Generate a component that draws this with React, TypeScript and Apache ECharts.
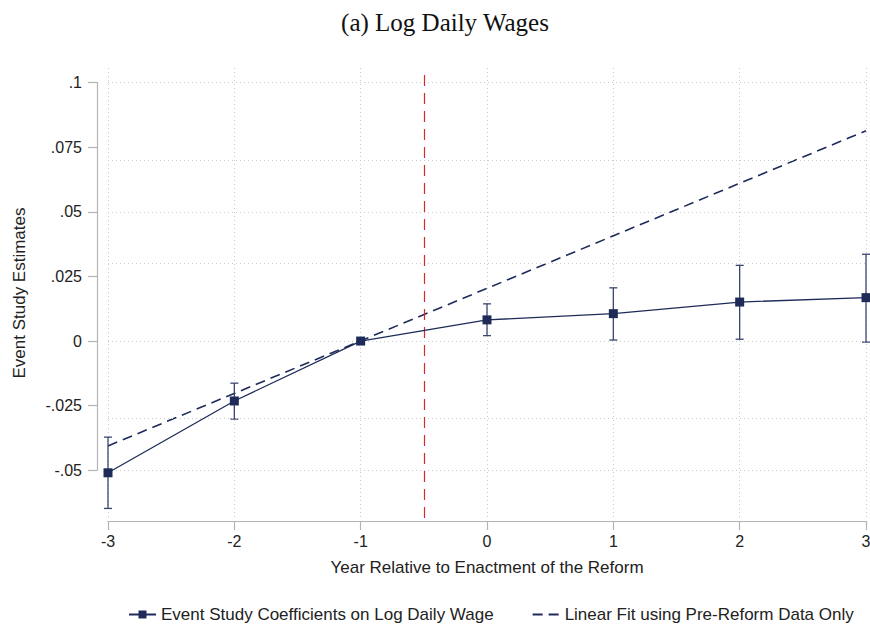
import React, { useEffect, useRef } from "react";
import * as echarts from "echarts";

const years = [-3, -2, -1, 0, 1, 2, 3];
const coef = [-0.051, -0.0232, 0, 0.0082, 0.0106, 0.0151, 0.0168];
const ciLow = [-0.0648, -0.0302, 0, 0.0021, 0.0004, 0.0007, -0.0004];
const ciHigh = [-0.0372, -0.0163, 0, 0.0144, 0.0206, 0.0293, 0.0336];
const fitX = [-3, 3];
const fitY = [-0.0406, 0.0814];
const yTickValues = [-0.05, -0.025, 0, 0.025, 0.05, 0.075, 0.1];
const yTickLabels = ["-.05", "-.025", "0", ".025", ".05", ".075", ".1"];
const xTickLabels = ["-3", "-2", "-1", "0", "1", "2", "3"];
const reformLine = -0.5;

const NAVY = "#1e2b58";
const AXIS = "#b4b4b4";
const GRID = "#c9c9c9";
const FONT = "'Liberation Sans', Arial, sans-serif";
const COEF_NAME = "Event Study Coefficients on Log Daily Wage";
const FIT_NAME = "Linear Fit using Pre-Reform Data Only";

export default function App() {
  const ref = useRef<HTMLDivElement>(null);
  useEffect(() => {
    if (!ref.current) return;
    const chart = echarts.init(ref.current, undefined, { renderer: "svg" });
    const yMin = -0.0685;
    const yMax = 0.1057;
    const option: any = {
      animation: false,
      backgroundColor: "#ffffff",
      title: {
        text: "(a) Log Daily Wages",
        left: 440,
        textAlign: "center",
        top: 5,
        textStyle: {
          fontFamily: "'Liberation Serif', 'DejaVu Serif', serif",
          fontWeight: "normal",
          fontSize: 25,
          color: "#111",
        },
      },
      legend: {
        top: 601,
        left: 123,
        itemWidth: 27,
        itemHeight: 10,
        itemGap: 38,
        textStyle: { fontFamily: FONT, fontSize: 17, color: "#222" },
        data: [
          { name: COEF_NAME },
          { name: FIT_NAME, itemStyle: { opacity: 0 } },
        ],
      },
      grid: [
        { left: 108, right: 4, top: 68, bottom: 113, outerBoundsMode: "none", containLabel: false },
        { left: 97, width: 10, top: 82.6, height: 387.6, outerBoundsMode: "none", containLabel: false },
      ],
      xAxis: [
        {
          type: "value",
          gridIndex: 0,
          min: -3,
          max: 3,
          interval: 1,
          offset: 3,
          name: "Year Relative to Enactment of the Reform",
          nameLocation: "middle",
          nameGap: 37.5,
          nameTextStyle: { fontFamily: FONT, fontSize: 17, color: "#222" },
          axisLine: { show: true, onZero: false, lineStyle: { color: AXIS, width: 1.2 } },
          axisTick: { show: true, inside: false, length: 9, lineStyle: { color: AXIS, width: 1.2 } },
          axisLabel: {
            fontFamily: FONT,
            fontSize: 16,
            color: "#222",
            margin: 12,
            formatter: (v: number) => xTickLabels[years.indexOf(Math.round(v))] ?? "",
          },
          splitLine: { show: true, lineStyle: { color: GRID, type: [1, 3], width: 1 } },
        },
        { type: "value", gridIndex: 1, show: false, min: 0, max: 1 },
      ],
      yAxis: [
        {
          type: "value",
          gridIndex: 0,
          min: yMin,
          max: yMax,
          name: "Event Study Estimates",
          nameLocation: "middle",
          nameGap: 80,
          nameTextStyle: { fontFamily: FONT, fontSize: 17, color: "#222" },
          axisLine: { show: false },
          axisTick: { show: false },
          axisLabel: { show: false },
          splitLine: { show: false },
        },
        {
          type: "value",
          gridIndex: 1,
          min: -0.05,
          max: 0.1,
          interval: 0.025,
          axisLine: { show: true, onZero: false, lineStyle: { color: AXIS, width: 1.2 } },
          axisTick: { show: true, length: 9, lineStyle: { color: AXIS, width: 1.2 } },
          axisLabel: {
            fontFamily: FONT,
            fontSize: 16,
            color: "#222",
            margin: 15,
            formatter: (v: number) => {
              const i = yTickValues.findIndex((t) => Math.abs(t - v) < 1e-6);
              return i >= 0 ? yTickLabels[i] : "";
            },
          },
          splitLine: { show: false },
        },
      ],
      series: [
        {
          name: "gridlines",
          type: "line",
          xAxisIndex: 0,
          yAxisIndex: 0,
          data: [],
          silent: true,
          markLine: {
            silent: true,
            symbol: "none",
            label: { show: false },
            lineStyle: { color: GRID, type: [1, 3], width: 1 },
            data: yTickValues.map((v) => ({ yAxis: v })),
          },
        },
        {
          name: "reform",
          type: "line",
          xAxisIndex: 0,
          yAxisIndex: 0,
          data: [],
          silent: true,
          markLine: {
            silent: true,
            symbol: "none",
            label: { show: false },
            lineStyle: { color: "#d42a2a", type: [11, 7], width: 1.2 },
            data: [{ xAxis: reformLine }],
          },
        },
        {
          name: FIT_NAME,
          type: "line",
          xAxisIndex: 0,
          yAxisIndex: 0,
          data: fitX.map((x, i) => [x, fitY[i]]),
          showSymbol: false,
          symbol: "none",
          itemStyle: { color: NAVY },
          lineStyle: { color: NAVY, width: 1.6, type: [10, 6] },
          z: 3,
        },
        {
          name: "errorbars",
          type: "custom",
          xAxisIndex: 0,
          yAxisIndex: 0,
          data: years.map((x, i) => [x, ciLow[i], ciHigh[i]]),
          encode: { x: 0, y: [1, 2] },
          silent: true,
          z: 4,
          renderItem: (params: any, api: any) => {
            const x = api.value(0);
            const lo = api.coord([x, api.value(1)]);
            const hi = api.coord([x, api.value(2)]);
            const w = 4;
            const style = { stroke: "#3a4670", lineWidth: 1.3 };
            return {
              type: "group",
              children: [
                { type: "line", shape: { x1: lo[0], y1: lo[1], x2: hi[0], y2: hi[1] }, style },
                { type: "line", shape: { x1: lo[0] - w, y1: lo[1], x2: lo[0] + w, y2: lo[1] }, style },
                { type: "line", shape: { x1: hi[0] - w, y1: hi[1], x2: hi[0] + w, y2: hi[1] }, style },
              ],
            };
          },
        },
        {
          name: COEF_NAME,
          type: "line",
          xAxisIndex: 0,
          yAxisIndex: 0,
          data: years.map((x, i) => [x, coef[i]]),
          symbol: "rect",
          symbolSize: 9,
          showSymbol: true,
          itemStyle: { color: NAVY },
          lineStyle: { color: NAVY, width: 1.3 },
          z: 5,
        },
      ],
    };
    chart.setOption(option);
    return () => chart.dispose();
  }, []);
  return (
    <div
      ref={ref}
      style={{ position: "fixed", left: 0, top: 0, width: 870, height: 631, background: "#fff" }}
    />
  );
}
